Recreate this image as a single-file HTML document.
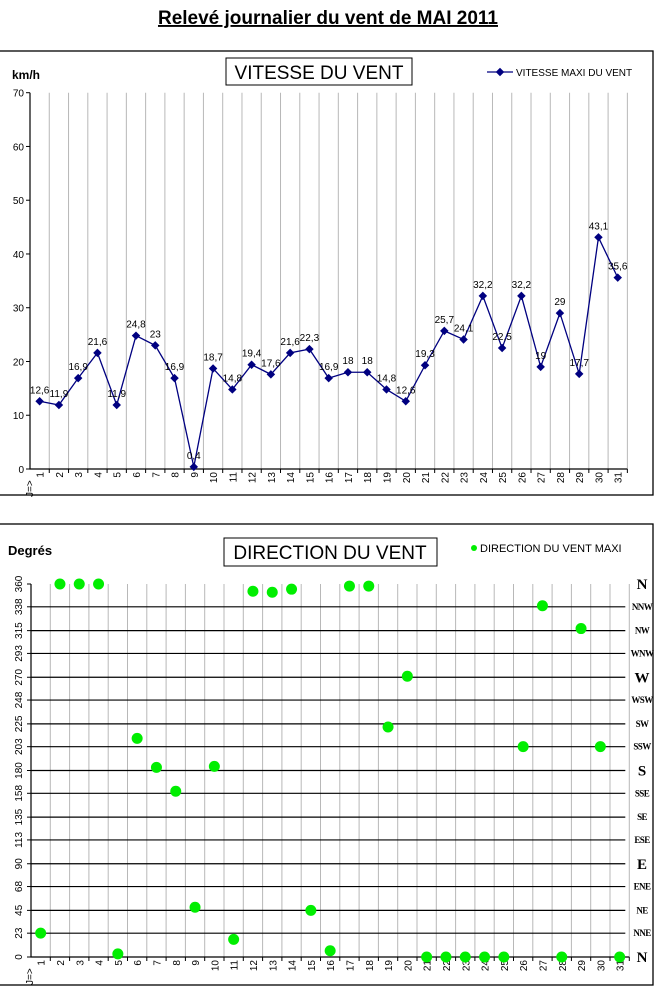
<!DOCTYPE html>
<html><head><meta charset="utf-8">
<style>
html,body{margin:0;padding:0;background:#fff;}
svg{display:block;font-family:"Liberation Sans",sans-serif;}
</style></head>
<body>
<svg id="root" width="657" height="990" viewBox="0 0 657 990" xmlns="http://www.w3.org/2000/svg">
  <text x="328" y="24" text-anchor="middle" font-size="19" font-weight="bold" text-decoration="underline">Relevé journalier du vent de MAI 2011</text>
  <g id="c1">
    <rect x="-1" y="51" width="654" height="444" fill="none" stroke="#000" stroke-width="1.3"/>
    <rect x="226" y="58" width="186" height="27" fill="#fff" stroke="#000"/>
    <text x="319" y="79" text-anchor="middle" font-size="19">VITESSE DU VENT</text>
    <text x="12" y="79" font-size="12" font-weight="bold">km/h</text>
    <line x1="487" y1="72" x2="513" y2="72" stroke="#000080" stroke-width="1.3"/>
    <rect x="497" y="69" width="6" height="6" fill="#000080" transform="rotate(45 500 72)"/>
    <text x="516" y="76" font-size="10">VITESSE MAXI DU VENT</text>
  </g>
  <g id="c2">
    <rect x="-1" y="524" width="654" height="461" fill="none" stroke="#000" stroke-width="1.3"/>
    <rect x="224" y="538" width="213" height="28" fill="#fff" stroke="#000"/>
    <text x="330" y="559" text-anchor="middle" font-size="19">DIRECTION DU VENT</text>
    <text x="8" y="555" font-size="13" font-weight="bold">Degrés</text>
    <circle cx="474" cy="548" r="3" fill="#00ee00"/>
    <text x="480" y="552" font-size="11">DIRECTION DU VENT MAXI</text>
  </g>
</svg>
<script>
const days = [1,2,3,4,5,6,7,8,9,10,11,12,13,14,15,16,17,18,19,20,21,22,23,24,25,26,27,28,29,30,31];
const speeds = [12.6,11.9,16.9,21.6,11.9,24.8,23,16.9,0.4,18.7,14.8,19.4,17.6,21.6,22.3,16.9,18,18,14.8,12.6,19.3,25.7,24.1,32.2,22.5,32.2,19,29,17.7,43.1,35.6];
const speedTicks = [0,10,20,30,40,50,60,70];
const directions = [23,360,360,360,3,211,183,160,48,184,17,353,352,355,45,6,358,358,222,271,0,0,0,0,0,203,339,0,317,203,0];
const dirTicks = [0,23,45,68,90,113,135,158,180,203,225,248,270,293,315,338,360];
const dirNames = ["N","NNE","NE","ENE","E","ESE","SE","SSE","S","SSW","SW","WSW","W","WNW","NW","NNW","N"];

const NS = "http://www.w3.org/2000/svg";
function mk(parent, tag, attrs, text){
  const e = document.createElementNS(NS, tag);
  for (const k in attrs) e.setAttribute(k, attrs[k]);
  if (text !== undefined) e.textContent = text;
  parent.appendChild(e);
  return e;
}
const c1 = document.getElementById('c1');
const c2 = document.getElementById('c2');

const x1L = 30, cw1 = 19.27, y1Top = 92.7, y1Bot = 469, yMax1 = 70;
const x1 = i => x1L + cw1 * (i + 0.5);
const y1 = v => y1Bot - (v / yMax1) * (y1Bot - y1Top);

for (let i = 1; i <= days.length; i++) {
  const g = mk(c1, 'line', {x1: x1L + cw1*i, x2: x1L + cw1*i, y1: y1Top, y2: y1Bot, stroke: '#b8b8b8', 'stroke-width': 1});
  
  
}
const ax1 = mk(c1, 'path', {d: `M${x1L} ${y1Top}V${y1Bot}H${x1L + cw1*days.length}`, fill: 'none', stroke: '#000', 'stroke-width': 1.2});


speedTicks.forEach(t => {
  const y = y1(t);
  const tk = mk(c1, 'line', {x1: x1L - 4, x2: x1L, y1: y, y2: y, stroke: '#000'});
  
  
  const lb = mk(c1, 'text', {x: x1L - 6, y: y + 4, 'text-anchor': 'end', 'font-size': 10}, String(t));
  
  
});
const j1 = mk(c1, 'text', {x: 0, y: 0, 'font-size': 10, transform: `translate(${x1L + 3},${y1Bot + 28}) rotate(-90)`}, 'J=>');


days.forEach((d, i) => {
  const tk = mk(c1, 'line', {x1: x1L + cw1*(i+1), x2: x1L + cw1*(i+1), y1: y1Bot, y2: y1Bot + 4, stroke: '#000'});
  
  
  const lb = mk(c1, 'text', {x: 0, y: 0, 'font-size': 10, 'text-anchor': 'end', transform: `translate(${x1(i) + 4},${y1Bot + 3}) rotate(-90)`}, String(d));
  
  
});
const line = mk(c1, 'polyline', {points: speeds.map((v, i) => `${x1(i)},${y1(v)}`).join(' '), fill: 'none', stroke: '#000080', 'stroke-width': 1.3});


speeds.forEach((v, i) => {
  const cx = x1(i), cy = y1(v);
  const m = mk(c1, 'rect', {x: cx - 3, y: cy - 3, width: 6, height: 6, fill: '#000080', transform: `rotate(45 ${cx} ${cy})`});
  
  
  const lb = mk(c1, 'text', {x: cx, y: cy - 8, 'text-anchor': 'middle', 'font-size': 10}, String(v).replace('.', ','));
  
  
});

const x2L = 31, cw2 = 19.3, y2Top = 584, y2Bot = 957, yMax2 = 360;
const x2 = i => x2L + cw2 * (i + 0.5);
const y2 = v => y2Bot - (v / yMax2) * (y2Bot - y2Top);
const x2R = x2L + cw2 * days.length;

for (let i = 1; i <= days.length; i++) {
  const g = mk(c2, 'line', {x1: x2L + cw2*i, x2: x2L + cw2*i, y1: y2Top, y2: y2Bot, stroke: '#b8b8b8', 'stroke-width': 1});
  
  
}
dirTicks.forEach((t, k) => {
  const y = y2(t);
  if (k > 0 && k < dirTicks.length - 1) {
    const g = mk(c2, 'line', {x1: x2L, x2: x2R - 4, y1: y, y2: y, stroke: '#000', 'stroke-width': 1.2});
    
    
  }
  const tk = mk(c2, 'line', {x1: x2L - 4, x2: x2L, y1: y, y2: y, stroke: '#000'});
  
  
  const lb = mk(c2, 'text', {x: 0, y: 0, 'font-size': 10, 'text-anchor': 'middle', transform: `translate(${x2L - 9},${y}) rotate(-90)`}, String(t));
  
  
  const big = (k % 4 === 0);
  const nm = mk(c2, 'text', {x: 642, y: y + (big ? 5 : 3), 'text-anchor': 'middle', 'font-family': '"Liberation Serif",serif', 'font-weight': 'bold', 'font-size': big ? 15 : 9, 'letter-spacing': big ? 0 : -0.6}, dirNames[k]);
  
  
});
const ax2 = mk(c2, 'path', {d: `M${x2L} ${y2Top}V${y2Bot}H${x2R}`, fill: 'none', stroke: '#000', 'stroke-width': 1.2});


const j2 = mk(c2, 'text', {x: 0, y: 0, 'font-size': 10, transform: `translate(${x2L + 2},${y2Bot + 28}) rotate(-90)`}, 'J=>');


days.forEach((d, i) => {
  const tk = mk(c2, 'line', {x1: x2L + cw2*(i+1), x2: x2L + cw2*(i+1), y1: y2Bot, y2: y2Bot + 4, stroke: '#000'});
  
  
  const lb = mk(c2, 'text', {x: 0, y: 0, 'font-size': 10, 'text-anchor': 'end', transform: `translate(${x2(i) + 4},${y2Bot + 3}) rotate(-90)`}, String(d));
  
  
});
directions.forEach((v, i) => {
  const c = mk(c2, 'circle', {cx: x2(i), cy: y2(v), r: 5.5, fill: '#00ee00'});
  
  
});
</script>
</body></html>
